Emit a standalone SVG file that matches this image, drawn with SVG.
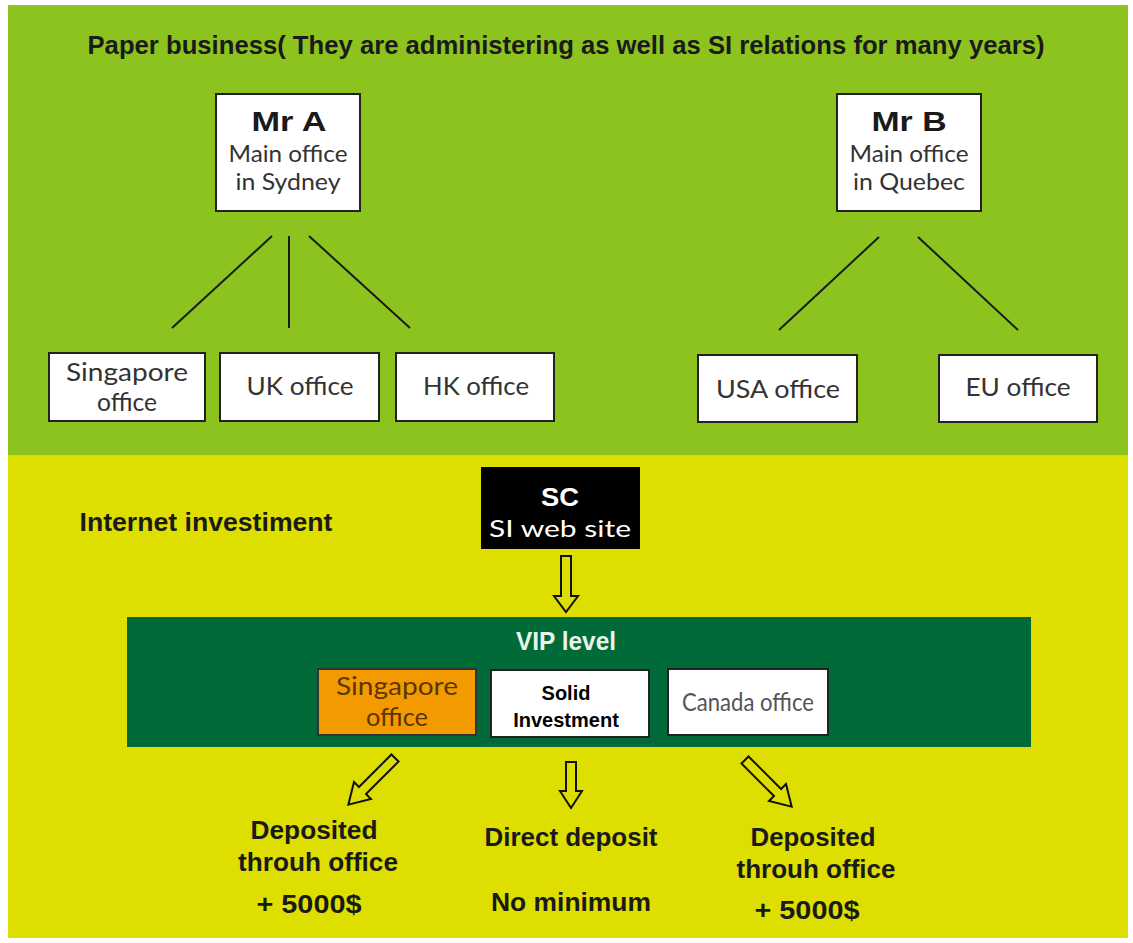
<svg xmlns="http://www.w3.org/2000/svg" width="1133" height="943" viewBox="0 0 1133 943">
<style>
.box{fill:#fff;stroke:#222;stroke-width:2}
.reg{font-family:Lato,"Liberation Sans",sans-serif;font-size:25px;fill:#333;text-anchor:middle}
.bold{font-family:"Liberation Sans",Arial,sans-serif;font-weight:bold;fill:#1a1a1a;text-anchor:middle}
.ln{stroke:#1a1a1a;stroke-width:2;fill:none}
.arr{fill:#dede00;stroke:#111;stroke-width:2;stroke-linejoin:miter}
</style>
<rect x="0" y="0" width="1133" height="943" fill="#fff"/>
<rect x="8" y="5" width="1120" height="450" fill="#8dc31f"/>
<rect x="8" y="455" width="1120" height="483" fill="#dede00"/>

<text class="bold" x="566" y="54" font-size="25" textLength="957" lengthAdjust="spacingAndGlyphs">Paper business( They are administering as well as SI relations for many years)</text>

<g id="mrA">
<rect class="box" x="216" y="94" width="144" height="117"/>
<text class="bold" x="289" y="131" font-size="27" textLength="75" lengthAdjust="spacingAndGlyphs">Mr A</text>
<text class="reg" x="288" y="162" style="font-size:24px" textLength="119" lengthAdjust="spacingAndGlyphs">Main office</text>
<text class="reg" x="288" y="190" style="font-size:24px" textLength="105" lengthAdjust="spacingAndGlyphs">in Sydney</text>
</g>
<g id="mrB">
<rect class="box" x="837" y="94" width="144" height="117"/>
<text class="bold" x="909" y="131" font-size="27" textLength="75" lengthAdjust="spacingAndGlyphs">Mr B</text>
<text class="reg" x="909" y="162" style="font-size:24px" textLength="119" lengthAdjust="spacingAndGlyphs">Main office</text>
<text class="reg" x="909" y="190" style="font-size:24px" textLength="112" lengthAdjust="spacingAndGlyphs">in Quebec</text>
</g>

<g id="connectors">
<line class="ln" x1="272" y1="236" x2="172" y2="328"/>
<line class="ln" x1="289" y1="236" x2="289" y2="328"/>
<line class="ln" x1="309" y1="236" x2="410" y2="328"/>
<line class="ln" x1="879" y1="237" x2="779" y2="330"/>
<line class="ln" x1="918" y1="237" x2="1018" y2="330"/>
<polygon class="arr" points="561,556 571,556 571,596 578,596 566,612 554,596 561,596"/>
<polygon class="arr" transform="translate(395,758) rotate(45)" points="-5,0 5,0 5,46 12,46 0,66 -12,46 -5,46"/>
<polygon class="arr" points="566,762 576,762 576,791 582,791 571,808 560,791 566,791"/>
<polygon class="arr" transform="translate(745,760) rotate(-45)" points="-5,0 5,0 5,46 12,46 0,66 -12,46 -5,46"/>
</g>

<g id="singapore1">
<rect class="box" x="49" y="353" width="156" height="68"/>
<text class="reg" x="127" y="381" textLength="122" lengthAdjust="spacingAndGlyphs">Singapore</text>
<text class="reg" x="127" y="411" textLength="60" lengthAdjust="spacingAndGlyphs">office</text>
</g>
<g id="uk">
<rect class="box" x="220" y="353" width="159" height="68"/>
<text class="reg" x="300" y="395" textLength="107" lengthAdjust="spacingAndGlyphs">UK office</text>
</g>
<g id="hk">
<rect class="box" x="396" y="353" width="158" height="68"/>
<text class="reg" x="476" y="395" textLength="106" lengthAdjust="spacingAndGlyphs">HK office</text>
</g>
<g id="usa">
<rect class="box" x="698" y="355" width="159" height="67"/>
<text class="reg" x="778" y="398" textLength="124" lengthAdjust="spacingAndGlyphs">USA office</text>
</g>
<g id="eu">
<rect class="box" x="939" y="355" width="158" height="67"/>
<text class="reg" x="1018" y="396" textLength="105" lengthAdjust="spacingAndGlyphs">EU office</text>
</g>

<text class="bold" x="206" y="531" font-size="25" textLength="253" lengthAdjust="spacingAndGlyphs">Internet investiment</text>

<g id="sc">
<rect x="481" y="467" width="159" height="82" fill="#000"/>
<text class="bold" x="560" y="506" font-size="25" style="fill:#fff" textLength="38" lengthAdjust="spacingAndGlyphs">SC</text>
<text class="reg" x="560" y="537" style="fill:#fff;font-size:23px" textLength="142" lengthAdjust="spacingAndGlyphs">SI web site</text>
</g>

<g id="vip">
<rect x="127" y="617" width="904" height="130" fill="#006a38"/>
<text class="bold" x="566" y="650" font-size="25" style="fill:#e8f5e8" textLength="100" lengthAdjust="spacingAndGlyphs">VIP level</text>
</g>
<g id="singapore2">
<rect x="318" y="669" width="158" height="66" fill="#f39a00" stroke="#333" stroke-width="2"/>
<text class="reg" x="397" y="695" style="fill:#5a3600" textLength="122" lengthAdjust="spacingAndGlyphs">Singapore</text>
<text class="reg" x="397" y="726" style="fill:#5a3600" textLength="62" lengthAdjust="spacingAndGlyphs">office</text>
</g>
<g id="solid">
<rect class="box" x="491" y="670" width="158" height="67"/>
<text x="566" y="700" font-family="Liberation Sans,Arial,sans-serif" font-weight="bold" font-size="20" text-anchor="middle" fill="#000">Solid</text>
<text x="566" y="727" font-family="Liberation Sans,Arial,sans-serif" font-weight="bold" font-size="20" text-anchor="middle" fill="#000">Investment</text>
</g>
<g id="canada">
<rect class="box" x="668" y="669" width="160" height="66"/>
<text class="reg" x="748" y="711" style="fill:#555" textLength="132" lengthAdjust="spacingAndGlyphs">Canada office</text>
</g>

<g id="leftOut">
<text class="bold" x="314" y="839" font-size="26" textLength="127" lengthAdjust="spacingAndGlyphs">Deposited</text>
<text class="bold" x="318" y="871" font-size="26" textLength="160" lengthAdjust="spacingAndGlyphs">throuh office</text>
<text class="bold" x="309" y="913" font-size="26" textLength="105" lengthAdjust="spacingAndGlyphs">+ 5000$</text>
</g>
<g id="midOut">
<text class="bold" x="571" y="846" font-size="26" textLength="173" lengthAdjust="spacingAndGlyphs">Direct deposit</text>
<text class="bold" x="571" y="911" font-size="26" textLength="160" lengthAdjust="spacingAndGlyphs">No minimum</text>
</g>
<g id="rightOut">
<text class="bold" x="813" y="846" font-size="26" textLength="125" lengthAdjust="spacingAndGlyphs">Deposited</text>
<text class="bold" x="816" y="878" font-size="26" textLength="159" lengthAdjust="spacingAndGlyphs">throuh office</text>
<text class="bold" x="807" y="919" font-size="26" textLength="105" lengthAdjust="spacingAndGlyphs">+ 5000$</text>
</g>
</svg>
